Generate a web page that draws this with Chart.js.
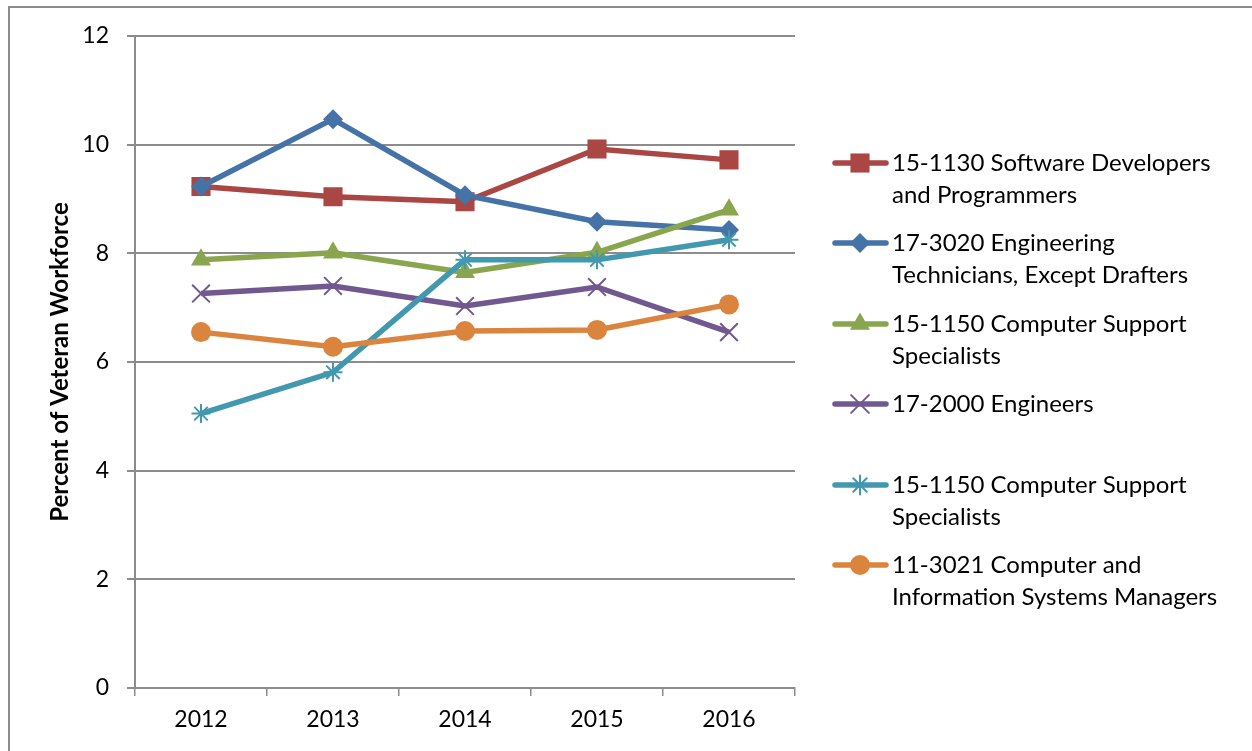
<!DOCTYPE html>
<html>
<head>
<meta charset="utf-8">
<script src="https://cdn.jsdelivr.net/npm/chart.js@4.4.1/dist/chart.umd.min.js"></script>
<style>
  html, body { margin: 0; padding: 0; background: #fff; }
  #wrap { position: relative; width: 1252px; height: 751px; }
  #frame { position: absolute; left: 8px; top: 6px; width: 1260px; height: 760px;
           border-left: 2px solid #8c8c8c; border-top: 2px solid #8c8c8c; }
  canvas { position: absolute; left: 0; top: 0; }
</style>
</head>
<body>
<div id="wrap">
  <div id="frame"></div>
  <canvas id="lineChart" width="1252" height="751"></canvas>
</div>
<script>
const years = ['2012', '2013', '2014', '2015', '2016'];

const softwareDevs = [9.23, 9.04, 8.95, 9.92, 9.72];
const engTechs = [9.23, 10.47, 9.07, 8.58, 8.43];
const compSupportA = [7.88, 8.01, 7.65, 8.02, 8.80];
const engineers = [7.26, 7.40, 7.03, 7.38, 6.55];
const compSupportB = [5.05, 5.81, 7.88, 7.88, 8.25];
const infoManagers = [6.55, 6.28, 6.57, 6.59, 7.06];

const legendText = [
  ['15-1130 Software Developers', 'and Programmers'],
  ['17-3020 Engineering', 'Technicians, Except Drafters'],
  ['15-1150 Computer Support', 'Specialists'],
  ['17-2000 Engineers'],
  ['15-1150 Computer Support', 'Specialists'],
  ['11-3021 Computer and', 'Information Systems Managers']
];

const yTicks = [0, 2, 4, 6, 8, 10, 12];

const FONT = 'Lato, Calibri, "Noto Sans", sans-serif';

function series(label, data, color, style, radius, order) {
  const crossy = style === 'crossRot' || style === 'star';
  return {
    label: label,
    data: data,
    borderColor: color,
    backgroundColor: color,
    borderWidth: 5.5,
    pointStyle: style,
    pointRadius: radius,
    pointHoverRadius: radius,
    pointBackgroundColor: color,
    pointBorderColor: color,
    pointBorderWidth: crossy ? 2 : 0,
    tension: 0,
    fill: false,
    order: order
  };
}

const datasets = [
  series(legendText[0].join(' '), softwareDevs, '#AA4643', 'rect', 13.5, 6),
  series(legendText[1].join(' '), engTechs, '#4572A7', 'rectRot', 10, 5),
  series(legendText[2].join(' '), compSupportA, '#89A54E', 'triangle', 11.5, 4),
  series(legendText[3].join(' '), engineers, '#71588F', 'crossRot', 12.5, 3),
  series(legendText[4].join(' '), compSupportB, '#4198AF', 'star', 9.5, 2),
  series(legendText[5].join(' '), infoManagers, '#DB843D', 'circle', 10, 1)
];

// legend drawn by hand so labels can wrap like the original
const sideLegend = {
  id: 'sideLegend',
  afterDraw(chart) {
    const ctx = chart.ctx;
    const tops = [163, 243, 324, 404, 485, 565];
    ctx.save();
    chart.data.datasets.forEach((ds, i) => {
      const y = tops[i];
      ctx.strokeStyle = ds.borderColor;
      ctx.fillStyle = ds.borderColor;
      ctx.lineWidth = 5.5;
      ctx.lineCap = 'round';
      ctx.beginPath();
      ctx.moveTo(835, y);
      ctx.lineTo(886, y);
      ctx.stroke();
      ctx.lineWidth = ds.pointBorderWidth || 1;
      Chart.helpers.drawPoint(ctx, {
        pointStyle: ds.pointStyle,
        radius: ds.pointRadius,
        borderWidth: ds.pointBorderWidth,
        rotation: 0
      }, 860, y);
      ctx.fillStyle = '#000';
      ctx.font = '24px ' + FONT;
      ctx.textBaseline = 'middle';
      ctx.textAlign = 'left';
      legendText[i].forEach((line, j) => {
        ctx.fillText(line, 892, y + j * 32);
      });
    });
    ctx.restore();
  }
};

const ctxLine = document.getElementById('lineChart');
new Chart(ctxLine, {
  type: 'line',
  data: {
    labels: years,
    datasets: datasets
  },
  plugins: [sideLegend],
  options: {
    responsive: false,
    animation: false,
    layout: {
      padding: { left: 0, right: 457, top: 36, bottom: 0 }
    },
    plugins: {
      legend: { display: false },
      tooltip: { enabled: false }
    },
    scales: {
      x: {
        offset: true,
        afterFit(scale) { scale.height = 751 - 688; },
        grid: {
          offset: true,
          drawOnChartArea: false,
          drawTicks: true,
          tickLength: 8,
          color: '#8c8c8c',
          lineWidth: 1.5
        },
        border: { color: '#8c8c8c', width: 2 },
        ticks: {
          color: '#000',
          padding: 10,
          font: { family: FONT, size: 23 }
        }
      },
      y: {
        min: 0,
        max: 12,
        afterFit(scale) { scale.width = 135; },
        afterBuildTicks(scale) {
          scale.ticks = yTicks.map(v => ({ value: v }));
        },
        grid: {
          color: '#8c8c8c',
          lineWidth: 2,
          tickLength: 8
        },
        border: { color: '#8c8c8c', width: 2 },
        ticks: {
          color: '#000',
          padding: 18,
          font: { family: FONT, size: 23 }
        },
        title: {
          display: true,
          text: 'Percent of Veteran Workforce',
          color: '#000',
          padding: { top: 46, bottom: 0 },
          font: { family: FONT, size: 24, weight: 'bold' }
        }
      }
    }
  }
});
</script>
</body>
</html>
